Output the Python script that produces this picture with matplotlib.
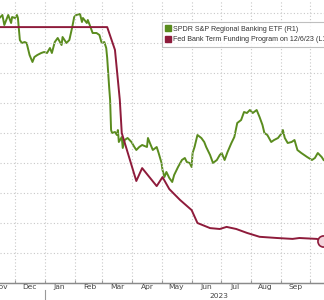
import pandas as pd
import matplotlib.pyplot as plt
import matplotlib.dates as mdates
import matplotlib.transforms as mtransforms
from matplotlib.lines import Line2D

# ====== data ======
kre_dates = [
    "2022-11-15", "2022-11-18", "2022-11-20", "2022-11-22", "2022-11-24", "2022-11-27",
    "2022-11-28", "2022-12-01", "2022-12-03", "2022-12-04", "2022-12-06", "2022-12-08",
    "2022-12-11", "2022-12-13", "2022-12-16", "2022-12-19", "2022-12-21", "2022-12-24",
    "2022-12-28", "2022-12-31", "2023-01-03", "2023-01-06", "2023-01-08", "2023-01-11",
    "2023-01-14", "2023-01-18", "2023-01-19", "2023-01-23", "2023-01-26", "2023-01-29",
    "2023-01-31", "2023-02-02", "2023-02-06", "2023-02-08", "2023-02-09", "2023-02-13",
    "2023-02-14", "2023-02-16", "2023-02-19", "2023-02-23", "2023-02-26", "2023-02-28",
    "2023-03-01", "2023-03-03", "2023-03-05", "2023-03-06", "2023-03-08", "2023-03-09",
    "2023-03-10", "2023-03-11", "2023-03-14", "2023-03-16", "2023-03-17", "2023-03-18",
    "2023-03-21", "2023-03-22", "2023-03-24", "2023-03-27", "2023-03-31", "2023-04-03",
    "2023-04-05", "2023-04-08", "2023-04-11", "2023-04-16", "2023-04-17", "2023-04-19",
    "2023-04-22", "2023-04-26", "2023-04-28", "2023-05-01", "2023-05-02", "2023-05-04",
    "2023-05-06", "2023-05-09", "2023-05-12", "2023-05-14", "2023-05-18", "2023-05-22",
    "2023-05-25", "2023-05-27", "2023-05-30", "2023-06-01", "2023-06-02", "2023-06-04",
    "2023-06-07", "2023-06-11", "2023-06-14", "2023-06-16", "2023-06-20", "2023-06-23",
    "2023-06-27", "2023-06-30", "2023-07-02", "2023-07-05", "2023-07-08", "2023-07-12",
    "2023-07-15", "2023-07-18", "2023-07-22", "2023-07-25", "2023-07-28", "2023-07-31",
    "2023-08-03", "2023-08-07", "2023-08-10", "2023-08-13", "2023-08-15", "2023-08-18",
    "2023-08-22", "2023-08-25", "2023-08-29", "2023-09-02", "2023-09-03", "2023-09-05",
    "2023-09-08", "2023-09-12", "2023-09-15", "2023-09-18", "2023-09-22", "2023-09-25",
    "2023-09-28", "2023-10-03", "2023-10-06", "2023-10-09", "2023-10-13", "2023-10-15",
]
kre_price = [
    66.4, 67.0, 65.0, 66.0, 67.0, 65.4, 66.6, 66.4, 67.0, 66.4, 62.0, 61.4,
    61.6, 61.4, 59.0, 57.6, 58.6, 59.0, 59.4, 59.6, 59.4, 60.4, 59.4, 61.6,
    62.4, 61.0, 62.6, 61.4, 62.0, 64.6, 66.6, 67.0, 67.2, 65.6, 66.4, 65.4,
    66.0, 65.0, 63.4, 63.4, 63.0, 61.6, 61.4, 61.6, 60.4, 58.4, 52.6, 50.0,
    44.0, 43.4, 43.6, 43.0, 44.0, 41.6, 42.6, 40.4, 42.0, 42.4, 41.6, 40.6,
    40.0, 40.6, 41.0, 40.6, 42.4, 41.4, 40.0, 40.6, 39.4, 37.4, 36.0, 34.6,
    35.6, 34.4, 33.6, 35.0, 36.6, 38.0, 38.4, 37.6, 37.4, 36.6, 39.4, 40.6,
    43.0, 42.4, 41.6, 40.6, 39.0, 37.4, 38.0, 39.0, 39.4, 38.0, 39.6, 41.4,
    42.6, 45.4, 46.0, 47.6, 47.4, 48.0, 47.4, 48.0, 46.6, 45.0, 43.4, 43.0,
    41.6, 42.0, 42.4, 43.4, 44.0, 42.4, 41.4, 41.6, 42.0, 40.0, 39.4, 39.0,
    38.6, 38.0, 38.4, 39.4, 38.6, 38.0,
]

btfp_dates = [
    "2022-11-15", "2023-03-06", "2023-03-14", "2023-03-19", "2023-03-21", "2023-04-05",
    "2023-04-11", "2023-04-26", "2023-05-02", "2023-05-09", "2023-05-20", "2023-06-01",
    "2023-06-07", "2023-06-20", "2023-06-30", "2023-07-07", "2023-07-17", "2023-07-28",
    "2023-08-10", "2023-08-28", "2023-09-13", "2023-09-20", "2023-10-08", "2023-10-14",
]
btfp_value = [
    8.53, 8.53, 7.77, 6.10, 5.00, 3.40, 3.83, 3.23, 3.53, 3.13, 2.77, 2.43,
    2.00, 1.83, 1.80, 1.87, 1.80, 1.67, 1.54, 1.50, 1.47, 1.50, 1.47, 1.40,
]

year_label = "2023"
legend_labels = ["SPDR S&P Regional Banking ETF (R1)",
                 "Fed Bank Term Funding Program on 12/6/23 (L1)"]

green = "#5a8c1e"
red = "#8e1b3b"

kre_x = pd.to_datetime(kre_dates)
btfp_x = pd.to_datetime(btfp_dates)

fig = plt.figure(figsize=(3.24, 3.0), dpi=100)
ax = fig.add_axes([0, 17 / 300, 1, 283 / 300])
ax2 = ax.twinx()

# red on top of green
ax.set_zorder(ax2.get_zorder() + 1)
ax.patch.set_visible(False)

ax2.plot(kre_x, kre_price, color=green, lw=1.4)
ax.plot(btfp_x, btfp_value, color=red, lw=1.4,
        marker="o", markevery=[len(btfp_value) - 1], ms=8,
        mfc="#f3d5dc", mec=red, mew=1.2)

ax.set_xlim(pd.Timestamp("2022-11-15 13:00"), pd.Timestamp("2023-10-15 09:30"))
ax.set_ylim(0, 283 / 30)
ax2.set_ylim(13.4, 70)

# grid
ax.set_yticks(range(1, 10))
ax.xaxis.set_major_locator(mdates.MonthLocator())
ax.xaxis.set_minor_locator(mdates.MonthLocator(bymonthday=16))
ax.xaxis.set_major_formatter(plt.NullFormatter())
ax.xaxis.set_minor_formatter(mdates.DateFormatter("%b"))
ax.grid(True, which="major", color="#c8c8c8", linestyle=(0, (1, 2)), lw=0.8)
ax.tick_params(axis="y", left=False, labelleft=False)
ax2.tick_params(axis="y", right=False, labelright=False)
ax.tick_params(axis="x", which="major", length=2, direction="in", color="#999999")
ax.tick_params(axis="x", which="minor", length=0, labelsize=5.4,
               labelcolor="#444444", pad=1)

for a in (ax, ax2):
    for side in ("left", "right", "top"):
        a.spines[side].set_visible(False)
    a.spines["bottom"].set_color("#8a8a8a")
    a.spines["bottom"].set_linewidth(0.9)

# year separator and year label
trans = mtransforms.blended_transform_factory(ax.transData, ax.transAxes)
ax.plot([pd.Timestamp("2023-01-01")] * 2, [-0.026, -0.065], color="#999999",
        lw=0.8, transform=trans, clip_on=False)
ax.text(pd.Timestamp("2023-06-29"), -0.047, year_label, transform=trans,
        ha="center", va="center", fontsize=5.4, color="#444444")

# legend
handles = [
    Line2D([], [], color=green, marker="s", linestyle="none", ms=4.5),
    Line2D([], [], color=red, marker="s", linestyle="none", ms=4.5),
]
leg = fig.legend(handles, legend_labels, loc="upper left",
                 bbox_to_anchor=(162 / 324, 1 - 22 / 300),
                 prop={"family": "Liberation Sans", "size": 5.1},
                 frameon=True, fancybox=False,
                 handlelength=0.6, handletextpad=0.5, borderpad=0.5,
                 labelspacing=0.55, borderaxespad=0)
leg.get_frame().set_edgecolor("#b0b0b0")
leg.get_frame().set_linewidth(0.8)
for t in leg.get_texts():
    t.set_color("#333333")

plt.savefig("out.png", dpi=100)
